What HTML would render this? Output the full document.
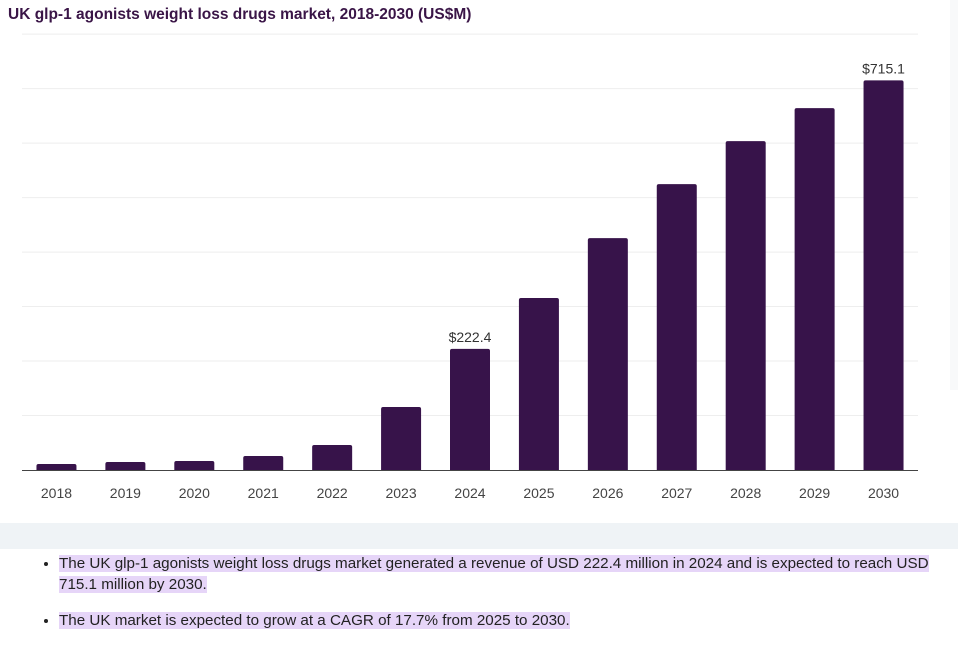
<!DOCTYPE html>
<html><head><meta charset="utf-8"><style>
body{margin:0;width:958px;height:630px;background:#fff;font-family:"Liberation Sans",sans-serif;overflow:hidden;position:relative}
#title{position:absolute;left:8px;top:6px;font-size:15.5px;font-weight:bold;color:#3a1547;margin:0}
#band{position:absolute;left:0;top:523px;width:958px;height:26px;background:#eff3f6}
#edge{position:absolute;left:950px;top:0;width:8px;height:390px;background:#f8f9fa}
ul{position:absolute;left:36px;top:553px;margin:0;padding:0 0 0 23px;width:892px;font-size:15.2px;color:#222;line-height:21px}
li{margin-bottom:15px}
mark{background:#e6d5f8;color:#222}
</style></head><body>
<div id="edge"></div>
<h1 id="title">UK glp-1 agonists weight loss drugs market, 2018-2030 (US$M)</h1>
<svg id="chart" width="958" height="520" style="position:absolute;left:0;top:0"></svg>
<div id="band"></div>
<ul>
<li><mark>The UK glp-1 agonists weight loss drugs market generated a revenue of USD 222.4 million in 2024 and is expected to reach USD 715.1 million by 2030.</mark></li>
<li><mark>The UK market is expected to grow at a CAGR of 17.7% from 2025 to 2030.</mark></li>
</ul>
<script>
const years=["2018","2019","2020","2021","2022","2023","2024","2025","2026","2027","2028","2029","2030"];
const values=[11,14.7,16.5,25.7,45.9,115.6,222.4,315.6,425.7,524.8,603.7,664.2,715.1];
const labels=["","","","","","","$222.4","","","","","","$715.1"];
const gridTicks=[0,100,200,300,400,500,600,700,800];
const svg=document.getElementById('chart');
const NS='http://www.w3.org/2000/svg';
const x0=22,x1=918,base=470,k=0.5448;
const step=(x1-x0)/years.length;
const y=v=>base-v*k;
const xc=i=>x0+step*(i+0.5);
function mk(t,a){const e=document.createElementNS(NS,t);for(const n in a)e.setAttribute(n,a[n]);svg.appendChild(e);return e;}
gridTicks.forEach(g=>{if(g===0)return;const l=mk('line',{x1:x0,x2:x1,y1:y(g),y2:y(g),stroke:'#eeeeee','stroke-width':1});

});
const bw=40;
values.forEach((v,i)=>{const h=v*k;const r=Math.min(2,h/2);
const p=mk('path',{d:`M${xc(i)-bw/2},${base}V${y(v)+r}Q${xc(i)-bw/2},${y(v)} ${xc(i)-bw/2+r},${y(v)}H${xc(i)+bw/2-r}Q${xc(i)+bw/2},${y(v)} ${xc(i)+bw/2},${y(v)+r}V${base}Z`,fill:'#37134a'});


const t=mk('text',{x:xc(i),y:498,'text-anchor':'middle','font-size':14,fill:'#444','font-family':'Liberation Sans, sans-serif'});t.textContent=years[i];


if(labels[i]){const d=mk('text',{x:xc(i),y:y(v)-7,'text-anchor':'middle','font-size':14,fill:'#333','font-family':'Liberation Sans, sans-serif'});d.textContent=labels[i];

}
});
const ax=mk('line',{x1:x0,x2:x1,y1:base+0.5,y2:base+0.5,stroke:'#444','stroke-width':1});


</script>
</body></html>
